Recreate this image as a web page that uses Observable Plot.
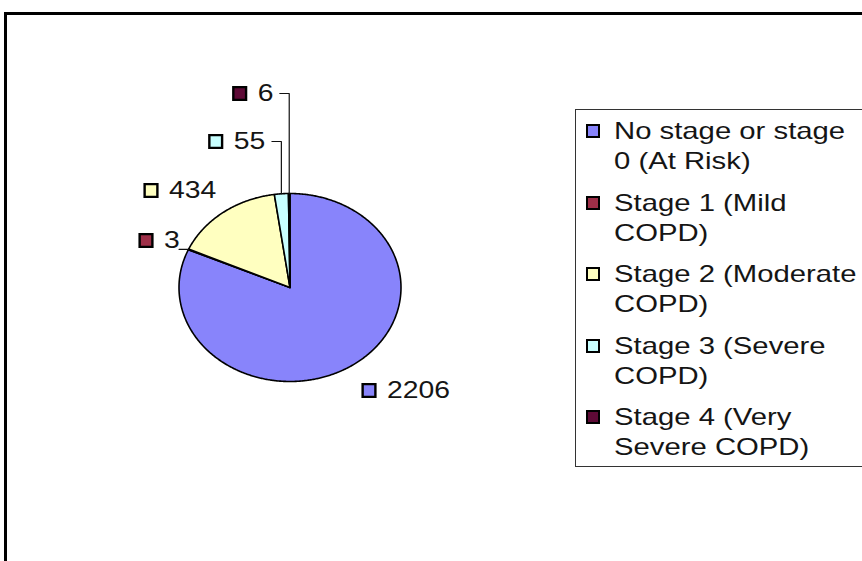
<!DOCTYPE html>
<html><head><meta charset="utf-8">
<script src="https://cdn.jsdelivr.net/npm/d3@7"></script>
<script src="https://cdn.jsdelivr.net/npm/@observablehq/plot@0.6"></script>
<style>
html,body{margin:0;padding:0;background:#fff;overflow:hidden;width:862px;height:561px;}
#wrap{position:relative;width:862px;height:561px;overflow:hidden;font-family:"Liberation Sans",Arial,sans-serif;}
#frame{position:absolute;left:4px;top:12px;width:900px;height:600px;border-top:3px solid #000;border-left:3px solid #000;}
#chart{position:absolute;left:0;top:0;}
#legend{position:absolute;left:575px;top:109px;width:340px;height:356px;border:1px solid #333;background:#fff;}
.item{position:absolute;left:0;width:300px;height:64px;}
.sw{position:absolute;left:10px;top:8px;width:10px;height:10px;border:2px solid #000;}
.lab{position:absolute;left:38px;top:0;width:204px;font-size:24px;line-height:30px;color:#151515;transform:scaleX(1.22);transform-origin:0 0;}
</style></head>
<body>
<div id="wrap">
  <div id="chart"></div>
  <div id="frame"></div>
  <div id="legend"></div>
</div>
<script>
// ---- data ----
const categories = ["No stage or stage 0 (At Risk)", "Stage 1 (Mild COPD)", "Stage 2 (Moderate COPD)", "Stage 3 (Severe COPD)", "Stage 4 (Very Severe COPD)"];
const counts = [2206, 3, 434, 55, 6];
const colors = ["#8884fb", "#9e2f48", "#ffffc0", "#c8ffff", "#5e0a36"];

// ---- label layout (in pie units, radius = 1) ----
const labelX = [0.874, -1.135, -1.09, -0.507, -0.291];
const labelY = [-1.096, 0.5, 1.032, 1.553, 2.064];
const hasLeader = [false, true, false, true, true];

const rows = categories.map((c, i) => ({cat: c, count: counts[i], i}));
const arcs = d3.pie().sort(null).value(d => d.count)(rows);

// slice outlines
const slicePts = [];
arcs.forEach(a => {
  const c = a.data.cat;
  slicePts.push({cat: c, x: 0, y: 0});
  const n = Math.max(2, Math.ceil((a.endAngle - a.startAngle) / (Math.PI / 360)));
  for (let k = 0; k <= n; k++) {
    const t = a.startAngle + (a.endAngle - a.startAngle) * k / n;
    slicePts.push({cat: c, x: Math.sin(t), y: Math.cos(t)});
  }
});

// labels
const labels = arcs.map((a, i) => ({cat: a.data.cat, text: String(a.data.count), x: labelX[i], y: labelY[i]}));

// leader lines
const leaders = [];
arcs.forEach((a, i) => {
  if (!hasLeader[i]) return;
  const m = (a.startAngle + a.endAngle) / 2;
  const ex = Math.sin(m), ey = Math.cos(m);
  const ly = labelY[i] > ey + 0.3 ? labelY[i] : ey;
  const c = a.data.cat;
  leaders.push({cat: c, x: ex - 0.085, y: ly});
  leaders.push({cat: c, x: ex, y: ly});
  leaders.push({cat: c, x: ex, y: ey});
});

const plot = Plot.plot({
  width: 862,
  height: 561,
  margin: 0,
  x: {domain: [-1, 1], range: [178.5, 400.5], axis: null},
  y: {domain: [-1, 1], range: [381, 193], axis: null},
  color: {domain: categories, range: colors},
  style: {background: "transparent", fontFamily: "'Liberation Sans', Arial, sans-serif", overflow: "visible"},
  marks: [
    Plot.line(slicePts, {x: "x", y: "y", z: "cat", fill: "cat", stroke: "#000", strokeWidth: 1.6, curve: "linear-closed", strokeLinejoin: "round"}),
    Plot.line(leaders, {x: "x", y: "y", z: "cat", stroke: "#111", strokeWidth: 1.2}),
    Plot.dot(labels, {x: "x", y: "y", symbol: "square", r: 7.2, fill: "cat", stroke: "#000", strokeWidth: 2.4, dx: -18}),
    Plot.text(labels, {x: "x", y: "y", text: "text", textAnchor: "start", fontSize: 24, fill: "#151515"})
  ]
});

plot.querySelectorAll("text").forEach(t => {
  const tr = t.getAttribute("transform");
  if (tr && tr.includes("translate")) {
    t.setAttribute("transform", tr + " scale(1.18,1)");
  } else {
    const x = +(t.getAttribute("x") || 0), y = +(t.getAttribute("y") || 0);
    t.setAttribute("x", 0); t.setAttribute("y", 0);
    t.setAttribute("transform", `translate(${x},${y}) scale(1.18,1)`);
  }
});
document.getElementById("chart").appendChild(plot);

// legend
const legend = document.getElementById("legend");
categories.forEach((c, i) => {
  const item = document.createElement("div");
  item.className = "item";
  item.style.top = (6 + i * 71.5) + "px";
  const sw = document.createElement("div");
  sw.className = "sw";
  sw.style.background = colors[i];
  const lab = document.createElement("div");
  lab.className = "lab";
  lab.textContent = c;
  item.appendChild(sw);
  item.appendChild(lab);
  legend.appendChild(item);
});
</script>
</body></html>
